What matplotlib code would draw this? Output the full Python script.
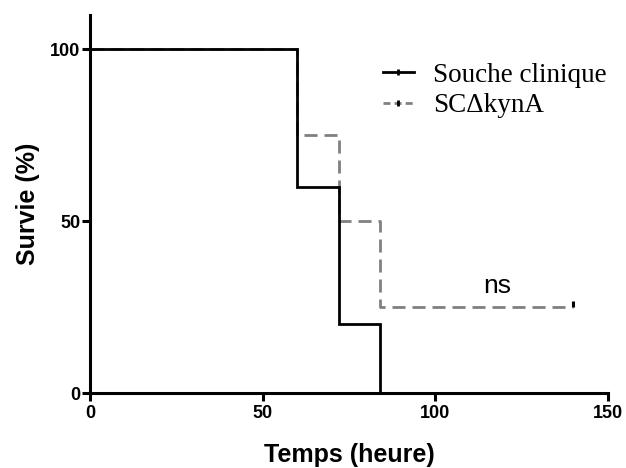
import matplotlib
matplotlib.use("Agg")
import matplotlib.pyplot as plt
from matplotlib.lines import Line2D

# Data (Kaplan-Meier steps)
times_clin = [0, 60, 72, 84]
surv_clin = [100, 60, 20, 0]
times_ko = [0, 60, 72, 84, 140]
surv_ko = [100, 75, 50, 25, 25]
censor_ko_t = [140]
censor_ko_s = [25]

xticks = [0, 50, 100, 150]
yticks = [0, 50, 100]
labels = ['Souche clinique', 'SC\u0394kynA']

fig = plt.figure(figsize=(6.26, 4.68), dpi=100)
ax = fig.add_axes([90/626, 1-393/468, (608-90)/626, (393-15)/468])

lw = 2.0
dash = (0, (4.7, 2.5))
ax.step(times_ko, surv_ko, where='post', color='#808080', lw=lw, ls=dash, zorder=2)
ax.step(times_clin, surv_clin, where='post', color='black', lw=lw, zorder=3,
        solid_joinstyle='miter')
ax.plot(censor_ko_t, [s + 1 for s in censor_ko_s], ls='none', marker='|', ms=4, mew=2.2,
        color='black', zorder=4)

ax.set_xlim(0, 150)
ax.set_ylim(0, 110)
ax.set_xticks(xticks)
ax.set_yticks(yticks)
for sp in ['top', 'right']:
    ax.spines[sp].set_visible(False)
for sp in ['left', 'bottom']:
    ax.spines[sp].set_linewidth(2.2)
ax.tick_params(width=2.2, length=6, direction='out', labelsize=13)
ax.tick_params(axis='y', pad=1)
ax.tick_params(axis='x', pad=3)
for lab in ax.get_xticklabels() + ax.get_yticklabels():
    lab.set_fontfamily('Liberation Sans')
    lab.set_fontweight('bold')

ax.set_xlabel('Temps (heure)', fontsize=18, fontweight='bold', family='Liberation Sans')
ax.set_ylabel('Survie (%)', fontsize=18, fontweight='bold', family='Liberation Sans')
ax.xaxis.set_label_coords(0.5, -(455 - 393) / 378, transform=ax.transAxes)
ax.yaxis.set_label_coords(-(90 - 28) / 518, (393 - 204) / 378, transform=ax.transAxes)
ax.xaxis.label.set_va('center')
ax.yaxis.label.set_va('center')

ax.text(118, 31, 'ns', fontsize=19, family='Liberation Sans', ha='center', va='center')

handles = [
    Line2D([], [], color='black', lw=lw, marker='|', ms=4, mew=2, mec='black'),
    Line2D([], [], color='#808080', lw=lw, ls=(0, (2.5, 1.5)), marker='|', ms=4, mew=2, mec='black'),
]
leg = ax.legend(handles, labels, loc='upper left', bbox_to_anchor=(0.544, 0.902), frameon=False,
                prop={'family': 'Liberation Serif', 'size': 19.5}, handlelength=1.15,
                handletextpad=0.7, labelspacing=0.2, borderaxespad=0)

fig.savefig('out.png', dpi=100)
